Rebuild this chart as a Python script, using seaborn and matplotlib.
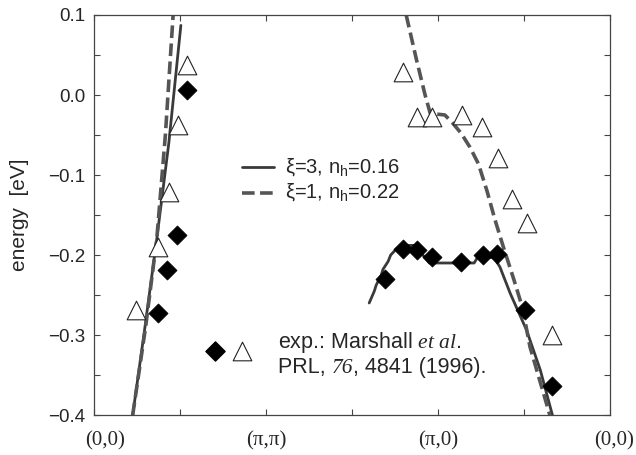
import matplotlib
matplotlib.use("Agg")
import matplotlib.pyplot as plt
import matplotlib.transforms as mtransforms
import seaborn as sns
import pandas as pd
from matplotlib.ticker import MultipleLocator, FixedLocator

# ---- data (momentum path coordinate: 0=(0,0), 2=(pi,pi), 4=(pi,0), 6=(0,0)) ----
diam_x = [0.74, 0.85, 0.96, 1.08, 3.38, 3.59, 3.76, 3.93, 4.27, 4.52, 4.69, 5.01, 5.33]
diam_y = [-0.272, -0.219, -0.175, 0.006, -0.230, -0.193, -0.194, -0.202, -0.209, -0.200, -0.199, -0.269, -0.364]

tri_x = [0.49, 0.74, 0.87, 0.98, 1.08, 3.59, 3.75, 3.93, 4.28, 4.51, 4.70, 4.86, 5.03, 5.33]
tri_y = [-0.269, -0.190, -0.121, -0.037, 0.037, 0.029, -0.027, -0.027, -0.025, -0.040, -0.079, -0.130, -0.160, -0.300]

solidL_x = [0.45, 0.58, 0.73, 0.87, 1.01]
solidL_y = [-0.400, -0.300, -0.180, -0.060, 0.087]
dashL_x = [0.45, 0.60, 0.73, 0.83, 0.92]
dashL_y = [-0.400, -0.290, -0.180, -0.050, 0.100]

solidR_x = [3.20, 3.26, 3.28, 3.34, 3.36, 3.42, 3.45, 3.52, 3.58, 3.72, 3.78, 3.84, 3.90, 4.42, 4.46, 4.65, 4.72, 4.84, 5.03, 5.19, 5.33]
solidR_y = [-0.260, -0.245, -0.238, -0.225, -0.218, -0.208, -0.200, -0.192, -0.188, -0.188, -0.195, -0.202, -0.210, -0.210, -0.203, -0.203, -0.215, -0.248, -0.294, -0.344, -0.400]
dashR_x = [3.63, 3.75, 3.85, 3.91, 4.08, 4.17, 4.27, 4.37, 4.47, 4.57, 4.66, 4.76, 4.88, 4.98, 5.07, 5.30]
dashR_y = [0.100, 0.044, 0.000, -0.023, -0.025, -0.035, -0.048, -0.065, -0.086, -0.120, -0.155, -0.190, -0.230, -0.265, -0.315, -0.400]

xtick_pos = [0, 1, 2, 3, 4, 5, 6]
xtick_labels = ["(0,0)", "", "(π,π)", "", "(π,0)", "", "(0,0)"]

sns.set_style("ticks")
plt.rcParams["font.family"] = ["Liberation Sans", "DejaVu Sans"]
plt.rcParams["mathtext.fontset"] = "custom"
plt.rcParams["mathtext.rm"] = "Liberation Sans"
plt.rcParams["mathtext.it"] = "Liberation Serif:italic"
plt.rcParams["mathtext.bf"] = "Liberation Sans:bold"

fig = plt.figure(figsize=(6.36, 4.55), dpi=100)
ax = fig.add_axes([94/636, 1-415/455, 516/636, 400/455])

line_c = "#3a3a3a"
dash_c = "#555555"
dash_style = (0, (3.5, 1.5))

def seg(xs, ys):
    return pd.DataFrame({"x": xs, "y": ys})

sns.lineplot(data=seg(solidL_x, solidL_y), x="x", y="y", ax=ax, color=line_c, lw=2.0, sort=False, estimator=None)
sns.lineplot(data=seg(dashL_x, dashL_y), x="x", y="y", ax=ax, color=dash_c, lw=2.6, sort=False, estimator=None, linestyle=dash_style)
sns.lineplot(data=seg(solidR_x, solidR_y), x="x", y="y", ax=ax, color=line_c, lw=2.0, sort=False, estimator=None)
sns.lineplot(data=seg(dashR_x, dashR_y), x="x", y="y", ax=ax, color=dash_c, lw=2.6, sort=False, estimator=None, linestyle=dash_style)

sns.scatterplot(data=seg(tri_x, tri_y), x="x", y="y", ax=ax, marker="^", s=180, facecolor="white", edgecolor="#222222", linewidth=0.8, zorder=5)
sns.scatterplot(data=seg(diam_x, diam_y), x="x", y="y", ax=ax, marker="D", s=95, color="black", edgecolor="black", linewidth=0.5, zorder=6)

ax.set_xlim(0, 6)
ax.set_ylim(-0.4, 0.1)
ax.xaxis.set_major_locator(FixedLocator(xtick_pos))
ax.set_xticklabels(xtick_labels, fontfamily="Liberation Serif", fontsize=15)
ax.yaxis.set_major_locator(MultipleLocator(0.1))
ax.yaxis.set_minor_locator(MultipleLocator(0.05))
ax.set_yticklabels([f"{v:.1f}".replace("-", "−") for v in ax.get_yticks()], fontsize=13.5)
ax.tick_params(which="both", direction="in", top=True, right=True, length=4, width=0.8, color="#444444")
ax.tick_params(axis="x", pad=12)
ax.tick_params(axis="y", pad=6)
for s in ax.spines.values():
    s.set_linewidth(0.9)
    s.set_color("#444444")
ax.set_xlabel("")
ax.set_ylabel("energy  [eV]", fontsize=15)
ax.yaxis.set_label_coords(-0.125, 0.5)

xl = ax.get_xticklabels()
xl[0].set_transform(xl[0].get_transform() + mtransforms.ScaledTranslation(11/100, 0, fig.dpi_scale_trans))
xl[6].set_transform(xl[6].get_transform() + mtransforms.ScaledTranslation(4/100, 0, fig.dpi_scale_trans))

# legend (drawn manually)
ax.plot([1.72, 2.09], [-0.090, -0.090], color=line_c, lw=2.0)
ax.plot([1.72, 2.09], [-0.122, -0.122], color=dash_c, lw=2.6, linestyle=dash_style)
ax.text(2.22, -0.090, "ξ=3, n$_\\mathrm{h}$=0.16", fontsize=14.5, va="center", ha="left")
ax.text(2.22, -0.122, "ξ=1, n$_\\mathrm{h}$=0.22", fontsize=14.5, va="center", ha="left")

ax.scatter([1.41], [-0.3195], marker="D", s=95, color="black", zorder=6)
ax.scatter([1.72], [-0.3195], marker="^", s=180, facecolor="white", edgecolor="#222222", linewidth=0.8, zorder=6)
ax.text(2.14, -0.309, "exp.: Marshall $\\it{et\\ al}$.", fontsize=15.5, va="center", ha="left")
t1 = ax.text(2.14, -0.341, "PRL, ", fontsize=15.5, va="center", ha="left")
t2 = ax.annotate("76", xy=(1, 0), xycoords=t1, va="bottom", ha="left", fontsize=15.5,
                 fontfamily="Liberation Serif", fontstyle="italic")
t3 = ax.annotate(", 4841 (1996).", xy=(1, 0), xycoords=t2, va="bottom", ha="left", fontsize=15.5)

fig.savefig("out.png", dpi=100)
